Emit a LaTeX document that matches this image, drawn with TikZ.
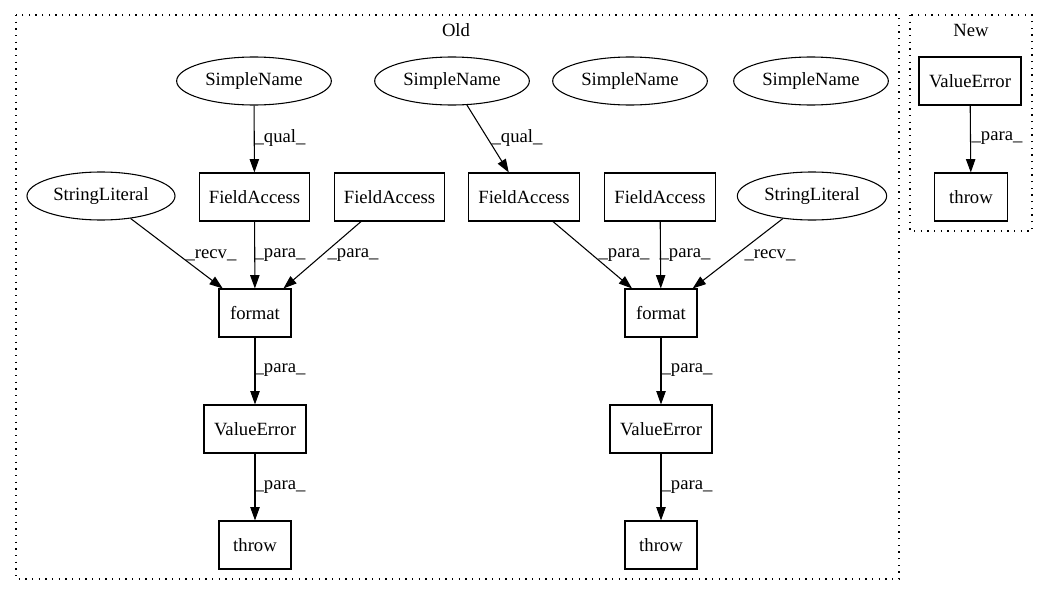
\documentclass[tikz,border=0pt]{standalone}
\usepackage{fontspec}
\setmainfont{Liberation Serif}
\usetikzlibrary{shapes.geometric,arrows.meta}
\begin{document}
\begin{tikzpicture}[x=0.75pt,y=-0.75pt,
  every node/.style={font=\fontsize{14pt}{16pt}\selectfont},
  ell/.style={draw,ellipse,line width=0.8pt,minimum height=36pt,inner sep=0pt},
  box/.style={draw,rectangle,line width=0.8pt,minimum height=36pt,inner sep=0pt},
  edge/.style={draw,line width=0.8pt,-{Triangle[length=10pt,width=7pt]}},
  lbl/.style={inner sep=0pt},
  cluster/.style={draw,line width=0.8pt,dash pattern=on 1pt off 4pt}]
\useasboundingbox (0,0) rectangle (1047,596);
% clusters
\draw[cluster] (16,15) rectangle (899,579);
\node (oldlbl) at (456,30) {Old};
\draw[cluster] (910,15) rectangle (1032,231);
\node (newlbl) at (971,30) {New};
% nodes
\node[ell,minimum width=116pt] (sn1) at (254,81) {SimpleName};
\node[ell,minimum width=116pt] (sn2) at (452,81) {SimpleName};
\node[ell,minimum width=116pt] (sn3) at (630,81) {SimpleName};
\node[ell,minimum width=116pt] (sn4) at (811,81) {SimpleName};
\node[ell,minimum width=111pt] (sl1) at (101,196) {StringLiteral};
\node[box,minimum width=83pt] (fa1) at (254.5,197) {FieldAccess};
\node[box,minimum width=83pt] (fa2) at (389.5,197) {FieldAccess};
\node[box,minimum width=83pt] (fa3) at (524,197) {FieldAccess};
\node[box,minimum width=83pt] (fa4) at (660,197) {FieldAccess};
\node[ell,minimum width=112pt] (sl2) at (812,196) {StringLiteral};
\node[box,minimum width=54pt] (fm1) at (255,313) {format};
\node[box,minimum width=54pt] (fm2) at (661,313) {format};
\node[box,minimum width=76.5pt] (ve1) at (255,429) {ValueError};
\node[box,minimum width=76.5pt] (ve2) at (661,429) {ValueError};
\node[box,minimum width=54pt] (th1) at (255,545) {throw};
\node[box,minimum width=54pt] (th2) at (661,545) {throw};
\node[box,minimum width=76.5pt] (ve3) at (970,81) {ValueError};
\node[box,minimum width=55pt] (th3) at (971,197) {throw};
% edges
\draw[edge] (sn1) -- (fa1);
\draw[edge] (sn2) -- (fa3);
\draw[edge] (sl1) -- (fm1);
\draw[edge] (fa1) -- (fm1);
\draw[edge] (fa2) -- (fm1);
\draw[edge] (fa3) -- (fm2);
\draw[edge] (fa4) -- (fm2);
\draw[edge] (sl2) -- (fm2);
\draw[edge] (fm1) -- (ve1);
\draw[edge] (fm2) -- (ve2);
\draw[edge] (ve1) -- (th1);
\draw[edge] (ve2) -- (th2);
\draw[edge] (ve3) -- (th3);
% labels
\node[lbl] (lq1) at (280,138) {\_qual\_};
\node[lbl] (lq2) at (517,138) {\_qual\_};
\node[lbl] (lr1) at (211,255) {\_recv\_};
\node[lbl] (lp1) at (280,255) {\_para\_};
\node[lbl] (lp2) at (353,255) {\_para\_};
\node[lbl] (lp3) at (624,255) {\_para\_};
\node[lbl] (lp4) at (685,255) {\_para\_};
\node[lbl] (lr2) at (770,255) {\_recv\_};
\node[lbl] (lp5) at (280,370) {\_para\_};
\node[lbl] (lp6) at (687,370) {\_para\_};
\node[lbl] (lp7) at (280,487) {\_para\_};
\node[lbl] (lp8) at (687,487) {\_para\_};
\node[lbl] (lp9) at (997,138) {\_para\_};
\end{tikzpicture}
\end{document}
